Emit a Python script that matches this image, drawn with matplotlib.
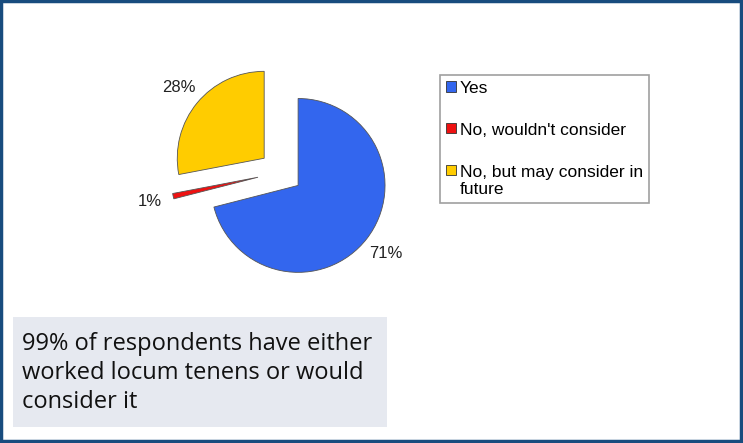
import matplotlib.pyplot as plt
from matplotlib.patches import Rectangle

# Survey answers
labels = ['Yes', "No, wouldn't consider", 'No, but may consider in\nfuture']
shares = [71, 1, 28]
colors = ['#3366EE', '#EE1111', '#FFCC00']
explode = [0.25, 0.27, 0.25]
note = '99% of respondents have either\nworked locum tenens or would\nconsider it'

fig = plt.figure(figsize=(7.43, 4.43), dpi=100)

# Outer dark blue frame
fig.patches.append(Rectangle((0.0015, 0.004), 0.9955, 0.993, transform=fig.transFigure,
                             fill=False, edgecolor='#184C7E', linewidth=2.5))

# Pie chart
ax = fig.add_axes([0.2026, 0.317, 0.351, 0.589])
wedges, texts, autotexts = ax.pie(shares, colors=colors, explode=explode, startangle=90,
                                  counterclock=False, autopct='%d%%', pctdistance=1.28,
                                  wedgeprops=dict(edgecolor='#555555', linewidth=0.6),
                                  textprops=dict(fontsize=12, family='Liberation Sans',
                                                 color='#222222'))
ax.set_xlim(-1.5, 1.5)
ax.set_ylim(-1.5, 1.5)
ax.set_aspect('equal')
ax.axis('off')

# Legend
leg = fig.legend(wedges, labels, loc='upper left', bbox_to_anchor=(440 / 743, 1 - 75 / 443),
                 prop=dict(family='Liberation Sans', size=12.5), frameon=True, fancybox=False,
                 edgecolor='#888888', handlelength=0.55, handleheight=0.55, handletextpad=0.25,
                 labelspacing=1.55, borderpad=0.35, borderaxespad=0)
leg.get_frame().set_linewidth(1.2)
for h in leg.legend_handles:
    h.set_edgecolor('#333333')
    h.set_linewidth(0.6)
# keep the square next to the first line of a two-line label
for col in leg._legend_handle_box.get_children():
    for row in col.get_children():
        row.align = 'top'

# Note box
fig.patches.append(Rectangle((13 / 743, 1 - 427 / 443), 374 / 743, 110 / 443,
                             transform=fig.transFigure, facecolor='#E6E9F0', edgecolor='none'))
fig.text(22 / 743, 1 - 332 / 443, note, fontsize=17, family='Open Sans', color='#111111',
         va='top', ha='left', linespacing=1.28)

fig.savefig('out.png', dpi=100)
